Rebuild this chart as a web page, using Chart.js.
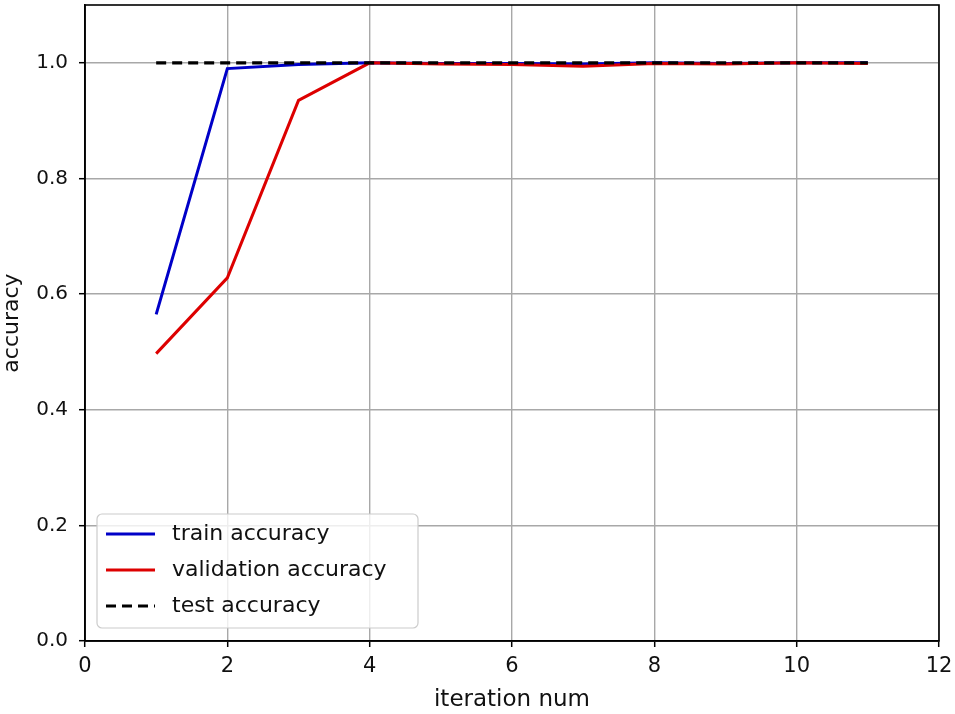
<!DOCTYPE html>
<html>
<head>
<meta charset="utf-8">
<script src="https://cdn.jsdelivr.net/npm/chart.js@4/dist/chart.umd.min.js"></script>
<style>
  html, body { margin: 0; padding: 0; background: #fff; }
  #wrap { width: 955px; height: 714px; }
</style>
</head>
<body>
<div id="wrap"><canvas id="c" width="955" height="714"></canvas></div>
<script>
const iterations = [1, 2, 3, 4, 5, 6, 7, 8, 9, 10, 11];
const trainAcc = [0.565, 0.990, 0.997, 1.000, 0.999, 0.999, 0.998, 1.000, 0.999, 1.000, 1.000];
const valAcc = [0.497, 0.628, 0.935, 1.000, 0.998, 0.997, 0.994, 0.999, 0.998, 1.000, 0.999];
const testAcc = [1.000, 1.000, 1.000, 1.000, 1.000, 1.000, 1.000, 1.000, 1.000, 1.000, 1.000];
const seriesLabels = ['train accuracy', 'validation accuracy', 'test accuracy'];
const xTicks = [0, 2, 4, 6, 8, 10, 12];
const yTicks = [0.0, 0.2, 0.4, 0.6, 0.8, 1.0];

const toPts = arr => iterations.map((x, i) => ({ x: x, y: arr[i] }));

const framePlugin = {
  id: 'frameLegend',
  afterDatasetsDraw(chart) {
    const ctx = chart.ctx;
    const a = chart.chartArea;
    ctx.save();
    ctx.strokeStyle = '#000';
    ctx.lineWidth = 1.6;
    ctx.strokeRect(a.left, a.top, a.right - a.left, a.bottom - a.top);
    const bx = a.left + 12, bw = 321, bh = 114, by = a.bottom - 13 - bh;
    const r = 5;
    ctx.beginPath();
    ctx.moveTo(bx + r, by);
    ctx.arcTo(bx + bw, by, bx + bw, by + bh, r);
    ctx.arcTo(bx + bw, by + bh, bx, by + bh, r);
    ctx.arcTo(bx, by + bh, bx, by, r);
    ctx.arcTo(bx, by, bx + bw, by, r);
    ctx.closePath();
    ctx.fillStyle = 'rgba(255,255,255,0.8)';
    ctx.fill();
    ctx.strokeStyle = '#cccccc';
    ctx.lineWidth = 1.2;
    ctx.stroke();
    ctx.font = '22px "DejaVu Sans"';
    ctx.textBaseline = 'middle';
    ctx.fillStyle = '#111';
    chart.data.datasets.forEach((ds, i) => {
      const cy = by + 20 + i * 36;
      ctx.beginPath();
      ctx.setLineDash(ds.borderDash || []);
      ctx.strokeStyle = ds.borderColor;
      ctx.lineWidth = ds.borderWidth;
      ctx.moveTo(bx + 9, cy);
      ctx.lineTo(bx + 58, cy);
      ctx.stroke();
      ctx.setLineDash([]);
      ctx.fillText(ds.label, bx + 75, cy);
    });
    ctx.restore();
  }
};

new Chart(document.getElementById('c'), {
  type: 'line',
  data: {
    datasets: [
      { label: seriesLabels[0], data: toPts(trainAcc), borderColor: '#0000c8', borderWidth: 3, pointRadius: 0, fill: false, tension: 0, order: 2 },
      { label: seriesLabels[1], data: toPts(valAcc), borderColor: '#dd0000', borderWidth: 3, pointRadius: 0, fill: false, tension: 0, order: 1 },
      { label: seriesLabels[2], data: toPts(testAcc), borderColor: '#000000', borderWidth: 3.2, borderDash: [10, 6], pointRadius: 0, fill: false, tension: 0, order: 0 }
    ]
  },
  options: {
    responsive: false,
    animation: false,
    layout: { padding: { left: 0, right: 16, top: 5, bottom: 0 } },
    plugins: { legend: { display: false }, tooltip: { enabled: false } },
    scales: {
      x: {
        type: 'linear', min: 0, max: 12,
        afterFit(scale) { scale.height = 73; scale.paddingLeft = 0; scale.paddingRight = 0; },
        afterBuildTicks(scale) { scale.ticks = xTicks.map(v => ({ value: v })); },
        ticks: { stepSize: 2, color: '#111', font: { family: 'DejaVu Sans', size: 21 }, padding: 7, maxRotation: 0 },
        grid: { color: '#a8a8a8', lineWidth: 1.4, tickColor: '#000', tickLength: 6, tickWidth: 1.5 },
        border: { display: true, color: '#000', width: 1.6 },
        title: { display: true, text: 'iteration num', color: '#111', font: { family: 'DejaVu Sans', size: 23 }, padding: { top: 0, bottom: 0 } }
      },
      y: {
        type: 'linear', min: 0, max: 1.1,
        afterFit(scale) { scale.width = 85; scale.paddingTop = 0; scale.paddingBottom = 0; },
        afterBuildTicks(scale) { scale.ticks = yTicks.map(v => ({ value: v })); },
        ticks: { stepSize: 0.2, color: '#111', font: { family: 'DejaVu Sans', size: 20 }, padding: 11, callback: v => v.toFixed(1) },
        grid: { color: '#a8a8a8', lineWidth: 1.4, tickColor: '#000', tickLength: 6, tickWidth: 1.5 },
        border: { display: true, color: '#000', width: 1.6 },
        title: { display: true, text: 'accuracy', color: '#111', font: { family: 'DejaVu Sans', size: 22, lineHeight: 1.1 }, padding: { top: 0, bottom: 0 } }
      }
    }
  },
  plugins: [framePlugin]
});
</script>
</body>
</html>
